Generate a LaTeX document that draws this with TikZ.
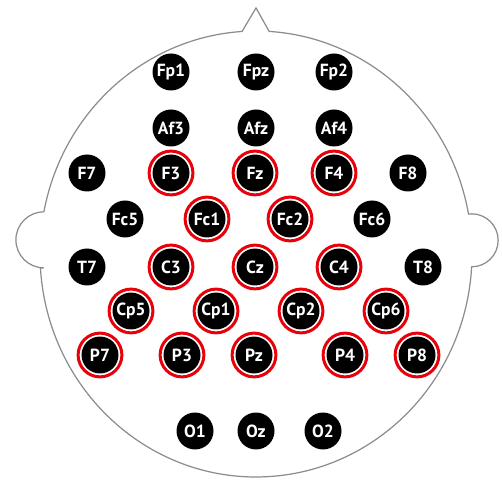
\documentclass[tikz,border=0pt]{standalone}
\usepackage{fontspec}
\setsansfont{PT Sans}
\usetikzlibrary{calc}
\definecolor{outline}{HTML}{8C8C8C}
\definecolor{ring}{HTML}{E8000B}

\begin{document}
\begin{tikzpicture}[x=0.02cm,y=0.02cm]
\tikzset{electrode/.style={circle,fill=black,text=white,minimum size=0.74cm,inner sep=0pt,
    font=\sffamily\bfseries\fontsize{10}{11}\selectfont},
  marked/.style={draw=ring,line width=1.7pt}}
\useasboundingbox (0,0) rectangle (502,479);

% head with nose and ears
\coordinate (head) at (256,225);
\coordinate (nose) at (256,471);
\draw[outline,line width=0.7pt]
  (nose) -- ([shift={(head)}]93.7:216 and 223)
  arc[start angle=93.7,end angle=169.1,x radius=216,y radius=223]
  arc[start angle=90,end angle=270,radius=28]
  -- ([shift={(head)}]183.6:216 and 223)
  arc[start angle=183.6,end angle=356.7,x radius=216,y radius=223]
  arc[start angle=-90,end angle=90,radius=26.5]
  -- ([shift={(head)}]10.3:216 and 223)
  arc[start angle=10.3,end angle=86.5,x radius=216,y radius=223]
  -- cycle;

% electrodes, row by row
\foreach \name/\x in {Fp1/171,Fpz/256,Fp2/334}
  \node[electrode] (\name) at (\x,407) {\name};
\foreach \name/\x in {Af3/171,Afz/256,Af4/334}
  \node[electrode] (\name) at (\x,351) {\name};
\foreach \name/\x in {F7/87,F3/171,Fz/255,F4/334,F8/408}
  \node[electrode] (\name) at (\x,306) {\name};
\foreach \name/\x in {Fc5/125,Fc1/207,Fc2/290,Fc6/372}
  \node[electrode] (\name) at (\x,260) {\name};
\foreach \name/\x in {T7/87,C3/171,Cz/255,C4/339,T8/423}
  \node[electrode] (\name) at (\x,212) {\name};
\foreach \name/\x in {Cp5/131,Cp1/216,Cp2/301,Cp6/386}
  \node[electrode] (\name) at (\x,168) {\name};
\foreach \name/\x in {P7/100,P3/182,Pz/254,P4/345,P8/417}
  \node[electrode] (\name) at (\x,124) {\name};
\foreach \name/\x in {O1/195,Oz/256,O2/323}
  \node[electrode] (\name) at (\x,48) {\name};

% selected channels
\foreach \name in {F3,Fz,F4,Fc1,Fc2,C3,Cz,C4,Cp5,Cp1,Cp2,Cp6,P7,P3,Pz,P4,P8}
  \draw[marked] (\name) circle[radius=21.9];
\end{tikzpicture}
\end{document}
